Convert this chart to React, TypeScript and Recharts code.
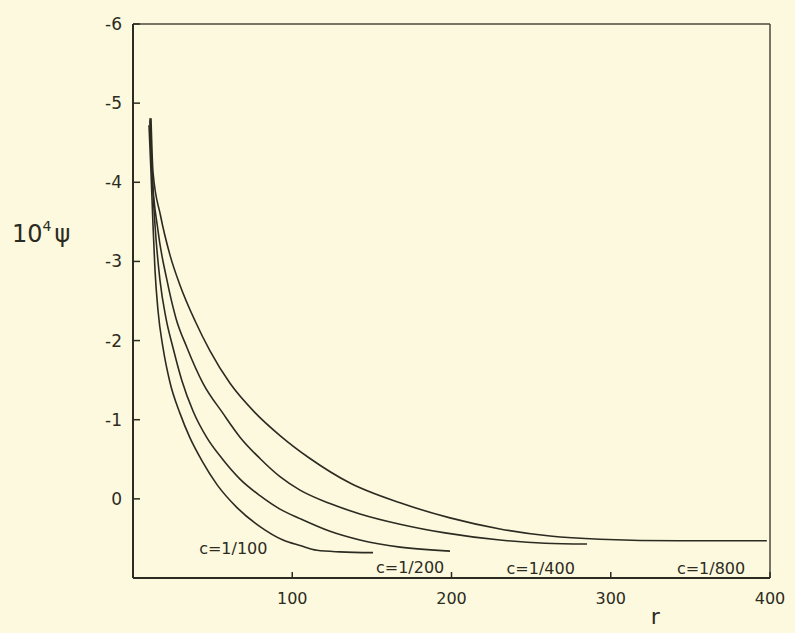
import React from 'react';
import { LineChart, Line, XAxis, YAxis, ReferenceLine, ReferenceDot } from 'recharts';

// c = 1/100
const rC100 = [10.05, 11.3, 12.56, 13.81, 15.7, 18.84, 23.23, 29.51, 35.79, 43.33, 52.75, 65.31, 79.75, 94.19, 104.87, 115.54, 129.98, 150.71];
const psiC100 = [-4.72, -4.13, -3.46, -2.89, -2.38, -1.91, -1.47, -1.08, -0.77, -0.48, -0.18, 0.11, 0.35, 0.52, 0.59, 0.65, 0.67, 0.68];
// c = 1/200
const rC200 = [10.68, 11.93, 13.81, 16.95, 20.72, 25.12, 30.77, 37.68, 46.47, 55.89, 67.19, 79.75, 92.31, 104.87, 123.7, 142.54, 167.66, 199.06];
const psiC200 = [-4.78, -4.13, -3.46, -2.76, -2.28, -1.91, -1.49, -1.11, -0.77, -0.51, -0.25, -0.04, 0.13, 0.25, 0.41, 0.52, 0.61, 0.66];
// c = 1/400
const rC400 = [10.68, 11.93, 15.7, 21.35, 27.0, 33.91, 43.96, 56.52, 67.19, 79.75, 92.31, 104.87, 123.7, 142.54, 167.66, 195.92, 230.45, 258.71, 285.08];
const psiC400 = [-4.81, -4.13, -3.39, -2.76, -2.28, -1.91, -1.46, -1.08, -0.78, -0.51, -0.28, -0.11, 0.06, 0.19, 0.32, 0.43, 0.52, 0.56, 0.57];
// c = 1/800
const rC800 = [11.3, 12.56, 17.27, 23.23, 29.51, 38.93, 48.35, 60.91, 76.61, 92.31, 111.15, 136.26, 167.66, 199.06, 230.45, 261.85, 293.25, 343.49, 398];
const psiC800 = [-4.81, -4.13, -3.58, -3.08, -2.7, -2.25, -1.87, -1.46, -1.09, -0.8, -0.51, -0.2, 0.05, 0.24, 0.38, 0.47, 0.51, 0.53, 0.53];

const xTicks = [100, 200, 300, 400];
const yTicks = [-6, -5, -4, -3, -2, -1, 0];

const curveLabels = ['c=1/100', 'c=1/200', 'c=1/400', 'c=1/800'];
const labelR = [63, 174, 256, 363];
const labelPsi = [0.63, 0.87, 0.88, 0.88];

const zip = (rs: number[], ps: number[]) => rs.map((r, i) => ({ r, psi: ps[i] }));
const series = [zip(rC100, psiC100), zip(rC200, psiC200), zip(rC400, psiC400), zip(rC800, psiC800)];

const INK = '#2c2b22';
const FONT = '"DejaVu Sans", sans-serif';

const YTick = (props: any) => {
  const { x, y, payload } = props;
  return (
    <g>
      <line x1={x} x2={x + 7} y1={y} y2={y} stroke={INK} strokeWidth={1.5} />
      <text x={x - 11} y={y} dy={6} textAnchor="end" fontSize={17} fill={INK} fontFamily={FONT}>
        {String(payload.value)}
      </text>
    </g>
  );
};

const XTick = (props: any) => {
  const { x, y, payload } = props;
  return (
    <g>
      <line x1={x} x2={x} y1={y} y2={y - 6} stroke={INK} strokeWidth={1.5} />
      <text x={x} y={y + 26} textAnchor="middle" fontSize={16} fill={INK} fontFamily={FONT}>
        {String(payload.value)}
      </text>
    </g>
  );
};

export default function App() {
  return (
    <div style={{ position: 'fixed', left: 0, top: 0, width: 795, height: 633, background: '#fcf9de' }}>
      <LineChart width={795} height={633} margin={{ top: 24, right: 25, left: 0, bottom: 0 }}>
        <XAxis
          type="number"
          dataKey="r"
          domain={[0, 400]}
          ticks={xTicks}
          allowDataOverflow
          height={55}
          tickSize={0}
          tickMargin={0}
          tick={<XTick />}
          axisLine={{ stroke: INK, strokeWidth: 2 }}
          label={{
            content: (p: any) => {
              const vb = p.viewBox;
              return (
                <text x={vb.x + vb.width * 0.82} y={vb.y + 46} textAnchor="middle" fontSize={22} fill={INK} fontFamily={FONT}>
                  r
                </text>
              );
            },
          }}
        />
        <YAxis
          type="number"
          dataKey="psi"
          domain={[-6, 1]}
          reversed
          ticks={yTicks}
          allowDataOverflow
          width={133}
          tickSize={0}
          tickMargin={0}
          tick={<YTick />}
          axisLine={{ stroke: INK, strokeWidth: 2 }}
          label={{
            content: (p: any) => {
              const vb = p.viewBox;
              return (
                <text x={vb.x + 12} y={vb.y + 218} fontSize={24} fill={INK} fontFamily={FONT}>
                  10
                  <tspan fontSize={14} dy={-11}>4</tspan>
                  <tspan dy={11} dx={3}>ψ</tspan>
                </text>
              );
            },
          }}
        />
        <ReferenceLine y={-6} stroke="#4a493e" strokeWidth={1.5} />
        <ReferenceLine x={400} stroke="#4a493e" strokeWidth={1.5} />
        {series.map((d, i) => (
          <Line
            key={i}
            data={d}
            dataKey="psi"
            type="monotone"
            stroke={INK}
            strokeWidth={1.6}
            dot={false}
            isAnimationActive={false}
          />
        ))}
        {curveLabels.map((t, i) => (
          <ReferenceDot
            key={t}
            x={labelR[i]}
            y={labelPsi[i]}
            r={0}
            fill="none"
            stroke="none"
            ifOverflow="visible"
            label={{ value: t, position: 'center', fontSize: 16, fill: INK, fontFamily: FONT }}
          />
        ))}
      </LineChart>
    </div>
  );
}
